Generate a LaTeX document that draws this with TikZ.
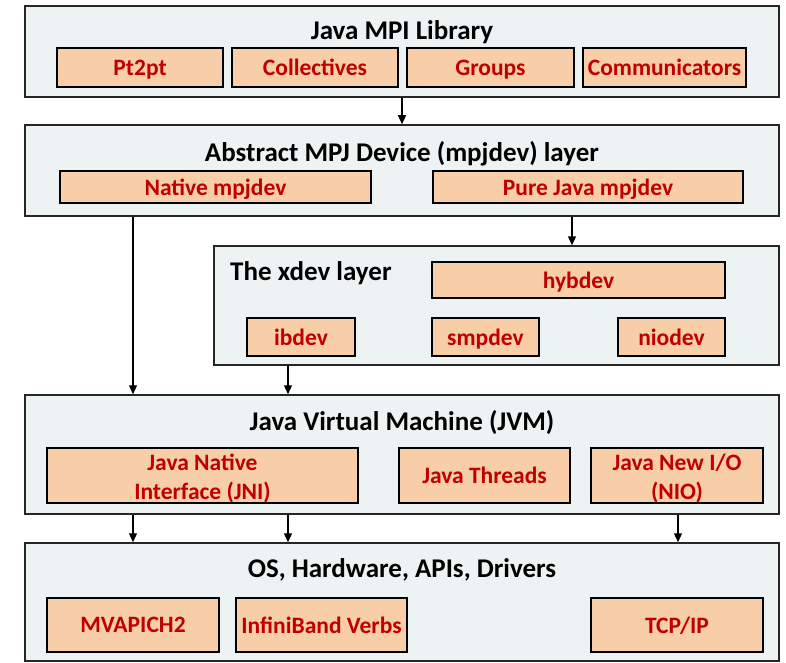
\documentclass[tikz,border=0pt]{standalone}
\usepackage{fontspec}
\setmainfont{Carlito}
\usetikzlibrary{arrows.meta}
\definecolor{outerfill}{RGB}{237,242,242}
\definecolor{innerfill}{RGB}{247,206,168}
\definecolor{txtred}{RGB}{192,0,0}
\begin{document}
\begin{tikzpicture}[x=1pt,y=-1pt,
  layerbox/.style={draw=black!85, line width=1.5pt, fill=outerfill, inner sep=0pt},
  partbox/.style={draw=black, line width=1.5pt, fill=innerfill, inner sep=0pt, align=center,
     text=txtred, font=\fontsize{23.5}{29}\selectfont\bfseries},
  oneline/.style={partbox, text depth=0pt},
  parttext/.style={inner sep=0pt, align=center, text=txtred, font=\fontsize{23.5}{29}\selectfont\bfseries},
  titletext/.style={inner sep=0pt, font=\fontsize{27}{31}\selectfont\bfseries, text=black,
     text depth=0pt},
  arr/.style={line width=1.2pt, -{Triangle[width=8pt,length=9pt]}}]
\useasboundingbox (0,0) rectangle (786,663);
% layers
\node[layerbox, minimum width=754pt, minimum height=91pt] (lib) at (402,51.5) {};
\node[layerbox, minimum width=754pt, minimum height=91pt] (mpj) at (402,170.5) {};
\node[layerbox, minimum width=565pt, minimum height=119pt] (xdev) at (496.5,305.5) {};
\node[layerbox, minimum width=754pt, minimum height=119pt] (jvm) at (402,454.5) {};
\node[layerbox, minimum width=754pt, minimum height=118pt] (os) at (402,602) {};
% titles
\node[titletext] (libt) at (402,30) {Java MPI Library};
\node[titletext] (mpjt) at (402,151) {Abstract MPJ Device (mpjdev) layer};
\node[titletext, anchor=west] (xdevt) at (230,271) {The xdev layer};
\node[titletext] (jvmt) at (402,420) {Java Virtual Machine (JVM)};
\node[titletext] (ost) at (402,568) {OS, Hardware, APIs, Drivers};
% parts
\node[oneline, minimum width=166pt, minimum height=39pt] (pt2pt) at (140,67.5) {Pt2pt};
\node[oneline, minimum width=166pt, minimum height=39pt] (coll) at (315,67.5) {Collectives};
\node[oneline, minimum width=167pt, minimum height=39pt] (groups) at (490.5,67.5) {Groups};
\node[oneline, minimum width=163pt, minimum height=39pt] (comm) at (664.5,67.5) {Communicators};
\node[oneline, minimum width=311pt, minimum height=32pt] (native) at (215.5,187) {Native mpjdev};
\node[oneline, minimum width=310pt, minimum height=32pt] (pure) at (588,187) {Pure Java mpjdev};
\node[oneline, minimum width=293pt, minimum height=36pt] (hyb) at (578.5,280) {hybdev};
\node[oneline, minimum width=108pt, minimum height=38pt] (ib) at (301,337) {ibdev};
\node[oneline, minimum width=107pt, minimum height=38pt] (smp) at (485.5,337) {smpdev};
\node[oneline, minimum width=107pt, minimum height=38pt] (nio) at (671.5,337) {niodev};
\node[partbox, minimum width=311pt, minimum height=55pt] (jni) at (202.5,475.5) {};
\node[parttext] (jnit) at ([yshift=-3pt]jni.center) {Java Native\\Interface (JNI)};
\node[oneline, minimum width=171pt, minimum height=55pt] (thr) at (484.5,475.5) {Java Threads};
\node[partbox, minimum width=172pt, minimum height=55pt] (nioj) at (677,475.5) {};
\node[parttext] (niojt) at ([yshift=-3pt]nioj.center) {Java New I/O\\(NIO)};
\node[oneline, minimum width=172pt, minimum height=54pt] (mva) at (133,625) {MVAPICH2};
\node[oneline, minimum width=171pt, minimum height=54pt] (ibv) at (321.5,625) {InfiniBand Verbs};
\node[oneline, minimum width=172pt, minimum height=54pt] (tcp) at (677,625) {TCP/IP};
% connector x positions
\coordinate (xa) at (133,0);
\coordinate (xb) at (288,0);
\coordinate (xc) at (572,0);
\coordinate (xd) at (678,0);
% connectors
\draw[arr] (lib.south) -- (mpj.north);
\draw[arr] (xa |- mpj.south) -- (xa |- jvm.north);
\draw[arr] (xc |- mpj.south) -- (xc |- xdev.north);
\draw[arr] (xb |- xdev.south) -- (xb |- jvm.north);
\draw[arr] (xa |- jvm.south) -- (xa |- os.north);
\draw[arr] (xb |- jvm.south) -- (xb |- os.north);
\draw[arr] (xd |- jvm.south) -- (xd |- os.north);
\end{tikzpicture}
\end{document}
